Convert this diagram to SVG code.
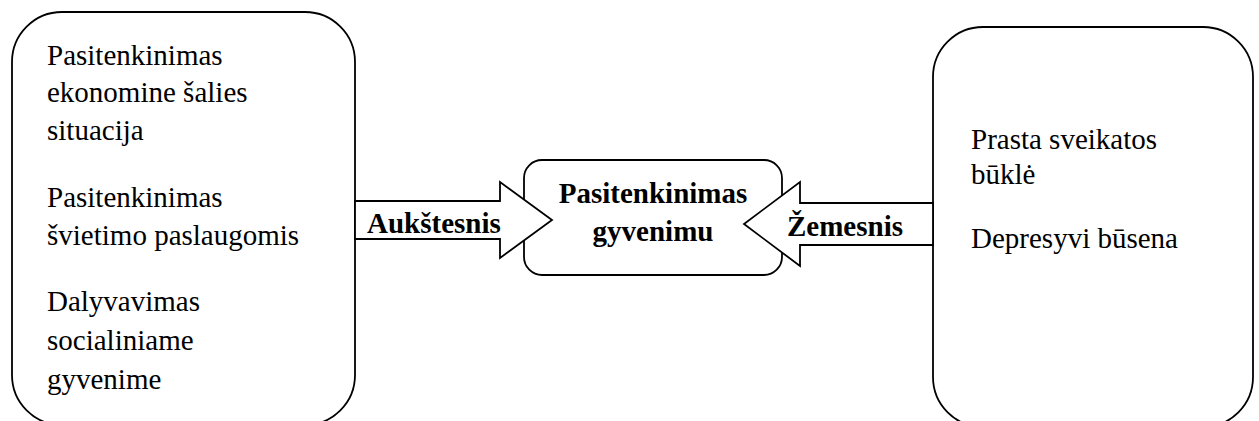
<svg xmlns="http://www.w3.org/2000/svg" width="1259" height="421" viewBox="0 0 1259 421">
<style>
.box{fill:#fff;stroke:#000;stroke-width:1.8}
.arr{fill:#fff;stroke:#000;stroke-width:1.8;stroke-linejoin:miter}
text{font-family:'Liberation Serif','Times New Roman',serif;font-size:29px;fill:#000}
.b{font-weight:bold}
</style>
<rect width="1259" height="421" fill="#fff"/>
<g id="left-box">
<rect class="box" x="12" y="12" width="343" height="413" rx="50" ry="50"/>
<text x="47" y="65">Pasitenkinimas</text>
<text x="47" y="102">ekonomine šalies</text>
<text x="47" y="140">situacija</text>
<text x="47" y="207">Pasitenkinimas</text>
<text x="47" y="245">švietimo paslaugomis</text>
<text x="47" y="311">Dalyvavimas</text>
<text x="47" y="350">socialiniame</text>
<text x="47" y="389">gyvenime</text>
</g>
<g id="right-box">
<rect class="box" x="933" y="27" width="320" height="400" rx="50" ry="50"/>
<text x="971" y="149">Prasta sveikatos</text>
<text x="971" y="184">būklė</text>
<text x="971" y="248">Depresyvi būsena</text>
</g>
<g id="center-box">
<rect class="box" x="524" y="160" width="258" height="115" rx="18" ry="18"/>
<text class="b" x="653" y="203" text-anchor="middle">Pasitenkinimas</text>
<text class="b" x="653" y="241" text-anchor="middle">gyvenimu</text>
</g>
<g id="connectors">
<polygon class="arr" points="355,201 500,201 500,182 552,220 500,258 500,239 355,239"/>
<polygon class="arr" points="933,203 800,203 800,182 744,224 800,266 800,245 933,245"/>
<text class="b" x="367" y="233">Aukštesnis</text>
<text class="b" x="787" y="236">Žemesnis</text>
</g>
</svg>
